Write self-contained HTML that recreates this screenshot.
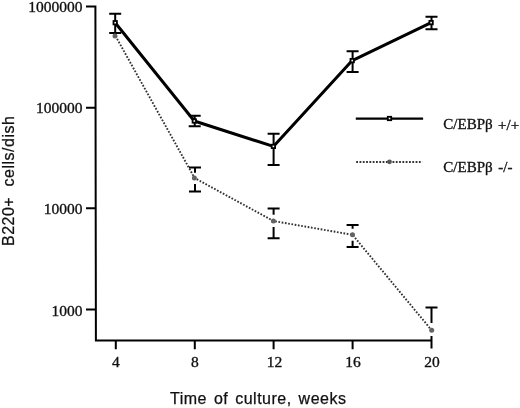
<!DOCTYPE html>
<html><head><meta charset="utf-8"><style>
html,body{margin:0;padding:0;background:#fff;width:520px;height:408px;overflow:hidden}
svg{display:block;filter:grayscale(1)}
.s{font-family:"Liberation Serif",serif;font-size:15.5px;fill:#111;stroke:#111;stroke-width:0.35px}
.l{font-family:"Liberation Serif",serif;font-size:15px;fill:#111;stroke:#111;stroke-width:0.35px}
.a{font-family:"Liberation Sans",sans-serif;font-size:16px;fill:#111;letter-spacing:0.5px;stroke:#111;stroke-width:0.25px}
</style></head><body>
<svg width="520" height="408" viewBox="0 0 520 408">
<rect width="520" height="408" fill="#fff"/>
<!-- axes -->
<g stroke="#000" stroke-width="2" fill="none" stroke-linecap="butt">
<path d="M86 6.5H95.4L95.9 340.6H431.5"/>
<path d="M86 107.7H95.5M86 208.3H95.6M86 309.6H95.8"/>
<path d="M115.8 340.5V349.3M194.8 340.5V349.3M273.6 340.5V349.3M352.6 340.5V349.3M431.5 336V348.5"/>
</g>
<!-- y labels -->
<g class="s" text-anchor="end">
<text x="82.5" y="12.2">1000000</text>
<text x="82.5" y="113.3">100000</text>
<text x="82.5" y="213.8">10000</text>
<text x="82.5" y="315.5">1000</text>
</g>
<!-- x labels -->
<g class="s" text-anchor="middle">
<text x="115.9" y="366.9">4</text>
<text x="194.8" y="366.9">8</text>
<text x="274.6" y="366.9">12</text>
<text x="353" y="366.9">16</text>
<text x="432" y="366.9">20</text>
</g>
<!-- axis titles -->
<text class="a" x="170" y="403.5" word-spacing="2">Time of culture, weeks</text>
<text class="a" transform="translate(13.5,246) rotate(-90)">B220+</text>
<text class="a" transform="translate(13.5,186.4) rotate(-90)">cells/dish</text>
<!-- -/- series dotted -->
<polyline points="115.5,36 194.6,178 273.4,221 352.5,234.8 431.7,330.3" fill="none" stroke="#333" stroke-width="1.9" stroke-dasharray="1.7 1.6"/>
<!-- +/+ series solid -->
<polyline points="115.2,22.7 194.3,121 273.4,146.4 352.2,60.6 431.1,22.6" fill="none" stroke="#000" stroke-width="3" stroke-linejoin="round"/>
<!-- error bars +/+ -->
<g stroke="#000" stroke-width="2" fill="none">
<path d="M115.2 13.7V32.9M109.2 13.7H121.2M109.2 32.9H121.2"/>
<path d="M194.7 115.7V126.3M188.7 115.7H200.7M188.7 126.3H200.7"/>
<path d="M273.6 133.8V164.9M267.6 133.8H279.6M267.6 164.9H279.6"/>
<path d="M352.6 51.3V71.9M346.6 51.3H358.6M346.6 71.9H358.6"/>
<path d="M431.5 16.8V29.3M425.5 16.8H437.5M425.5 29.3H437.5"/>
</g>
<!-- error bars -/- -->
<g stroke="#000" stroke-width="2" fill="none">
<path d="M195 167.6V172.7M195 184V191.6M189 167.6H201M189 191.6H201"/>
<path d="M273.6 208.6V214.7M273.6 227V238.2M267.6 208.6H279.6M267.6 238.2H279.6"/>
<path d="M352.6 225V228.7M352.6 240.7V246.9M346.6 225H358.6M346.6 246.9H358.6"/>
<path d="M431.5 307.6V323M425.5 307.6H437.5"/>
</g>
<!-- markers +/+ -->
<g fill="#fff" stroke="#000" stroke-width="1.8">
<rect x="113.5" y="21.0" width="3.4" height="3.4"/>
<rect x="192.6" y="119.3" width="3.4" height="3.4"/>
<rect x="271.7" y="144.7" width="3.4" height="3.4"/>
<rect x="350.5" y="58.9" width="3.4" height="3.4"/>
<rect x="429.4" y="20.9" width="3.4" height="3.4"/>
</g>
<!-- markers -/- -->
<g fill="#636363">
<circle cx="115" cy="36" r="2.5"/>
<circle cx="194.4" cy="177.9" r="2.5"/>
<circle cx="273.4" cy="221" r="2.5"/>
<circle cx="352.5" cy="234.8" r="2.5"/>
<circle cx="431.7" cy="330.3" r="2.5"/>
</g>
<!-- legend -->
<path d="M355.8 118.7H423.1" stroke="#000" stroke-width="2.3"/>
<rect x="387.8" y="116.8" width="3.4" height="3.4" fill="#fff" stroke="#000" stroke-width="1.8"/>
<path d="M356.2 162H422.3" stroke="#333" stroke-width="1.9" stroke-dasharray="1.8 1.5"/>
<circle cx="389.5" cy="161.8" r="2.4" fill="#555"/>
<text class="l" x="443.3" y="129">C/EBPβ<tspan x="498.1" dy="0.6">+/+</tspan></text>
<text class="l" x="443.3" y="172">C/EBPβ<tspan x="498.3" dy="0.4">-/-</tspan></text>
</svg>
</body></html>
